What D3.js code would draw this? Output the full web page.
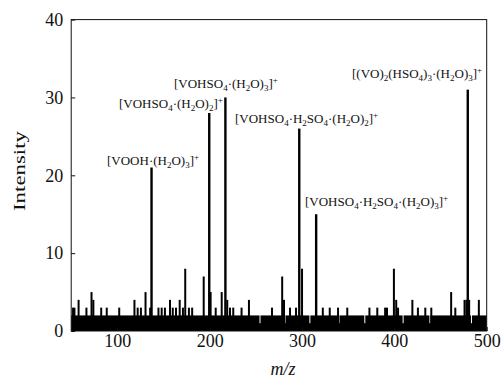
<!DOCTYPE html>
<html>
<head>
<meta charset="utf-8">
<script src="https://cdn.jsdelivr.net/npm/d3@7"></script>
<style>
  html, body { margin: 0; padding: 0; background: #fff; }
  svg { display: block; }
  text { font-family: "Liberation Serif", "Times New Roman", serif; fill: #111; }
</style>
</head>
<body>
<div id="chart"></div>
<script>
// Main ion peaks (m/z, intensity)
const mainMz = [137, 199.5, 217, 297, 315.3, 479.5];
const mainInt = [21, 28, 30, 26, 15, 31];
const mainLabels = [
  '[VOOH·(H_2O)_3]^+',
  '[VOHSO_4·(H_2O)_2]^+',
  '[VOHSO_4·(H_2O)_3]^+',
  '[VOHSO_4·H_2SO_4·(H_2O)_2]^+',
  '[VOHSO_4·H_2SO_4·(H_2O)_3]^+',
  '[(VO)_2(HSO_4)_3·(H_2O)_3]^+'
];

// Small noise peaks above the baseline (m/z, intensity)
const noiseMz = [52, 53.5, 58, 66.5, 72, 74, 82.5, 88.5, 102, 118.5, 122, 125.5, 130.5, 135.5,
  144.5, 148, 151.5, 157, 160, 163.5, 167.5, 171, 173.5, 177.5, 181, 193.5, 201, 206.5, 213,
  219, 222, 225.5, 234.5, 242.5, 267.5, 278.5, 280.5, 287, 293.5, 300, 322.5, 330, 339, 349,
  373, 381.5, 390, 392, 399.5, 402, 404, 419.5, 425.5, 433.5, 440, 461.5, 466, 476, 478, 481, 491.5];
const noiseInt = [3, 3, 4, 3, 5, 4, 3, 3, 3, 4, 3, 3, 5, 3,
  3, 3, 3, 4, 3, 3, 4, 3, 8, 3, 3, 7, 5, 3, 5,
  4, 3, 3, 3, 4, 3, 7, 4, 3, 3, 8, 3, 3, 3, 3,
  3, 3, 3, 3, 8, 4, 3, 4, 3, 3, 3, 5, 3, 4, 4, 4, 4];

// Dense baseline level and the places where it drops
const baselineRange = [50, 500];
const baselineLevel = 2;
const dipMz = [254.5, 281.5, 308.5, 340, 368, 409.5, 438.5, 483.5];
const dipInt = [1, 1, 1, 1, 1, 1, 1, 1];

const xTicks = [100, 200, 300, 400, 500];
const yTicks = [0, 10, 20, 30, 40];

// label anchor (start x, baseline y) in pixels
const labelPos = [[107, 165], [119, 108], [174, 88], [235, 123], [305, 206], [352, 78]];

const width = 504, height = 387;
const plot = {left: 71.2, right: 486.7, top: 19.6, bottom: 331};

const svg = d3.select('#chart').append('svg')
  .attr('width', width)
  .attr('height', height);

const x = d3.scaleLinear().domain([50, 500]).range([plot.left, plot.right]);
const y = d3.scaleLinear().domain([0, 40]).range([plot.bottom, plot.top]);

const g = svg.append('g');

// baseline block
g.append('rect')
  .attr('x', x(baselineRange[0]))
  .attr('y', y(baselineLevel))
  .attr('width', x(baselineRange[1]) - x(baselineRange[0]))
  .attr('height', y(0) - y(baselineLevel))
  .attr('fill', '#000');

// dips in the baseline
g.selectAll('.dip')
  .data(dipMz.map((m, i) => ({mz: m, v: dipInt[i]})))
  .enter().append('line')
  .attr('class', 'dip')
  .attr('x1', d => x(d.mz)).attr('x2', d => x(d.mz))
  .attr('y1', y(baselineLevel) - 0.5).attr('y2', d => y(d.v))
  .attr('stroke', '#fff')
  .attr('stroke-width', 1);

// noise peaks
g.selectAll('.noise')
  .data(noiseMz.map((m, i) => ({mz: m, v: noiseInt[i]})))
  .enter().append('line')
  .attr('class', 'noise')
  .attr('x1', d => x(d.mz)).attr('x2', d => x(d.mz))
  .attr('y1', y(0)).attr('y2', d => y(d.v))
  .attr('stroke', '#000')
  .attr('stroke-width', 2);

// main peaks
g.selectAll('.peak')
  .data(mainMz.map((m, i) => ({mz: m, v: mainInt[i]})))
  .enter().append('line')
  .attr('class', 'peak')
  .attr('x1', d => x(d.mz)).attr('x2', d => x(d.mz))
  .attr('y1', y(0)).attr('y2', d => y(d.v))
  .attr('stroke', '#000')
  .attr('stroke-width', 2.4);

// axes (ticks point inward)
const xAxis = svg.append('g')
  .attr('transform', 'translate(0,' + plot.bottom + ')')
  .call(d3.axisBottom(x).tickValues(xTicks).tickSizeInner(-4).tickSizeOuter(0).tickPadding(3));
const yAxis = svg.append('g')
  .attr('transform', 'translate(' + plot.left + ',0)')
  .call(d3.axisLeft(y).tickValues(yTicks).tickSizeInner(-4).tickSizeOuter(0).tickPadding(8));
[xAxis, yAxis].forEach(a => {
  a.select('.domain').remove();
  a.selectAll('text')
    .style('font-family', '"Liberation Serif", "Times New Roman", serif')
    .style('font-size', '18px')
    .attr('fill', '#111');
  a.selectAll('line').attr('stroke', '#111');
});

// frame
svg.append('rect')
  .attr('x', plot.left).attr('y', plot.top)
  .attr('width', plot.right - plot.left)
  .attr('height', plot.bottom - plot.top)
  .attr('fill', 'none')
  .attr('stroke', '#111')
  .attr('stroke-width', 1);

// axis titles
svg.append('text')
  .attr('transform', 'translate(25,171) rotate(-90)')
  .attr('text-anchor', 'middle')
  .attr('font-size', 17)
  .attr('textLength', 80)
  .attr('lengthAdjust', 'spacingAndGlyphs')
  .text('Intensity');

svg.append('text')
  .attr('x', 283).attr('y', 375)
  .attr('text-anchor', 'middle')
  .attr('font-size', 18)
  .attr('font-style', 'italic')
  .text('m/z');

// peak labels with sub/superscripts
function richText(sel, str) {
  const parts = str.split(/(_\d|\^\+)/).filter(s => s.length);
  let shift = 0;
  parts.forEach(p => {
    let dy = 0, size = 13, txt = p;
    if (p[0] === '_') { dy = 3; size = 9; txt = p.slice(1); }
    else if (p[0] === '^') { dy = -5; size = 9; txt = p.slice(1); }
    sel.append('tspan')
      .attr('dy', dy - shift)
      .attr('font-size', size)
      .text(txt);
    shift = dy;
  });
}

mainLabels.forEach((lab, i) => {
  const t = svg.append('text')
    .attr('x', labelPos[i][0])
    .attr('y', labelPos[i][1])
    .attr('font-size', 13);
  richText(t, lab);
});
</script>
</body>
</html>
